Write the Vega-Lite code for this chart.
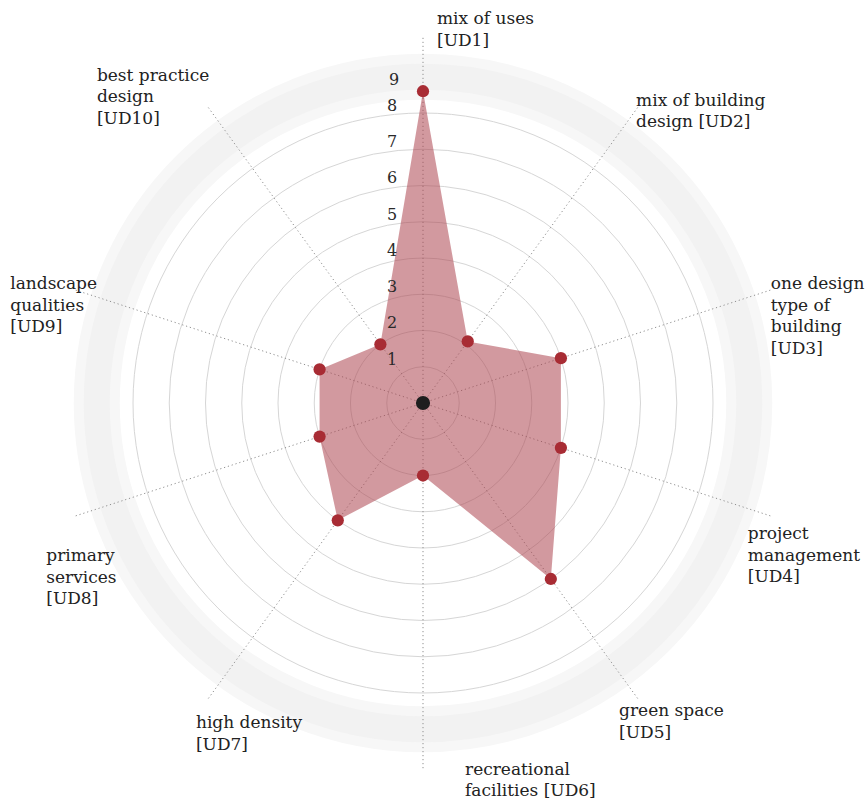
{
  "$schema": "https://vega.github.io/schema/vega-lite/v6.json",
  "width": 846,
  "height": 796,
  "autosize": {"type": "none"},
  "padding": {"left": 0, "top": 5, "right": 21, "bottom": 0},
  "background": "white",
  "config": {"view": {"stroke": null}},
  "datasets": {
    "axes": [
      {"key": "UD1", "idx": 0, "value": 8.6, "label": ["mix of uses", "[UD1]"]},
      {"key": "UD2", "idx": 1, "value": 2.1, "label": ["mix of building", "design [UD2]"]},
      {"key": "UD3", "idx": 2, "value": 4.0, "label": ["one design", "type of", "building", "[UD3]"]},
      {"key": "UD4", "idx": 3, "value": 4.0, "label": ["project", "management", "[UD4]"]},
      {"key": "UD5", "idx": 4, "value": 6.0, "label": ["green space", "[UD5]"]},
      {"key": "UD6", "idx": 5, "value": 2.0, "label": ["recreational", "facilities [UD6]"]},
      {"key": "UD7", "idx": 6, "value": 4.0, "label": ["high density", "[UD7]"]},
      {"key": "UD8", "idx": 7, "value": 3.0, "label": ["primary", "services", "[UD8]"]},
      {"key": "UD9", "idx": 8, "value": 3.0, "label": ["landscape", "qualities", "[UD9]"]},
      {"key": "UD10", "idx": 9, "value": 2.0, "label": ["best practice", "design", "[UD10]"]}
    ],
    "rings": [{"v": 1}, {"v": 2}, {"v": 3}, {"v": 4}, {"v": 5}, {"v": 6}, {"v": 7}, {"v": 8}, {"v": 9}]
  },
  "layer": [
    {
      "data": {"name": "rings"},
      "transform": [{"calculate": "0", "as": "o"}],
      "layer": [
        {
          "transform": [{"filter": "datum.v === 9"}],
          "mark": {"type": "point", "shape": "circle", "filled": false, "stroke": "#f7f7f7", "strokeWidth": 46, "opacity": 1},
          "encoding": {
            "x": {"field": "o", "type": "quantitative", "scale": {"domain": [-11.669, 11.669], "nice": false, "zero": false}, "axis": null},
            "y": {"field": "o", "type": "quantitative", "scale": {"domain": [-10.979, 10.979], "nice": false, "zero": false}, "axis": null},
            "size": {"field": "v", "type": "quantitative", "scale": {"type": "pow", "exponent": 2, "domain": [0, 10], "range": [0, 525625], "zero": true, "nice": false}, "legend": null}
          }
        },
        {
          "transform": [{"filter": "datum.v === 9"}],
          "mark": {"type": "point", "shape": "circle", "filled": false, "stroke": "#f2f2f2", "strokeWidth": 26, "opacity": 1},
          "encoding": {
            "x": {"field": "o", "type": "quantitative"},
            "y": {"field": "o", "type": "quantitative"},
            "size": {"field": "v", "type": "quantitative", "legend": null}
          }
        },
        {
          "transform": [{"filter": "datum.v <= 8"}],
          "mark": {"type": "point", "shape": "circle", "filled": false, "stroke": "#d6d6d6", "strokeWidth": 1, "opacity": 1},
          "encoding": {
            "x": {"field": "o", "type": "quantitative"},
            "y": {"field": "o", "type": "quantitative"},
            "size": {"field": "v", "type": "quantitative", "legend": null}
          }
        }
      ]
    },
    {
      "data": {"name": "axes"},
      "transform": [
        {"calculate": "0", "as": "o"},
        {"calculate": "datum.idx * PI / 5", "as": "angle"},
        {"calculate": "datum.value * sin(datum.angle)", "as": "px"},
        {"calculate": "datum.value * cos(datum.angle)", "as": "py"},
        {"calculate": "10.1 * sin(datum.angle)", "as": "ex"},
        {"calculate": "10.1 * cos(datum.angle)", "as": "ey"},
        {"calculate": "10 * sin(datum.angle)", "as": "lx"},
        {"calculate": "10 * cos(datum.angle)", "as": "ly"}
      ],
      "layer": [
        {
          "mark": {"type": "rule", "stroke": "#8f8f8f", "strokeWidth": 1, "strokeDash": [1.2, 2.8]},
          "encoding": {
            "x": {"field": "o", "type": "quantitative"},
            "y": {"field": "o", "type": "quantitative"},
            "x2": {"field": "ex"},
            "y2": {"field": "ey"}
          }
        },
        {
          "mark": {"type": "line", "filled": true, "fill": "#ad4650", "fillOpacity": 0.55, "strokeWidth": 0},
          "encoding": {
            "x": {"field": "px", "type": "quantitative"},
            "y": {"field": "py", "type": "quantitative"},
            "order": {"field": "idx", "type": "quantitative"}
          }
        },
        {
          "mark": {"type": "point", "filled": true, "shape": "circle", "size": 150, "color": "#a82c34", "opacity": 1},
          "encoding": {
            "x": {"field": "px", "type": "quantitative"},
            "y": {"field": "py", "type": "quantitative"}
          }
        },
        {
          "transform": [{"filter": "datum.idx === 0"}],
          "mark": {"type": "point", "filled": true, "shape": "circle", "size": 200, "color": "#1e1e1e", "opacity": 1},
          "encoding": {
            "x": {"field": "o", "type": "quantitative"},
            "y": {"field": "o", "type": "quantitative"}
          }
        },
        {"transform": [{"filter": "datum.key === 'UD1'"}], "mark": {"type": "text", "align": "left", "baseline": "top", "dx": 14, "dy": -29.5, "font": "DejaVu Serif", "fontSize": 17, "lineHeight": 21.7, "fill": "#222"}, "encoding": {"x": {"field": "lx", "type": "quantitative"}, "y": {"field": "ly", "type": "quantitative"}, "text": {"field": "label", "type": "nominal"}}},
        {"transform": [{"filter": "datum.key === 'UD2'"}], "mark": {"type": "text", "align": "left", "baseline": "top", "dx": 0, "dy": -17, "font": "DejaVu Serif", "fontSize": 17, "lineHeight": 21.7, "fill": "#222"}, "encoding": {"x": {"field": "lx", "type": "quantitative"}, "y": {"field": "ly", "type": "quantitative"}, "text": {"field": "label", "type": "nominal"}}},
        {"transform": [{"filter": "datum.key === 'UD3'"}], "mark": {"type": "text", "align": "left", "baseline": "top", "dx": 3, "dy": -15, "font": "DejaVu Serif", "fontSize": 17, "lineHeight": 21.7, "fill": "#222"}, "encoding": {"x": {"field": "lx", "type": "quantitative"}, "y": {"field": "ly", "type": "quantitative"}, "text": {"field": "label", "type": "nominal"}}},
        {"transform": [{"filter": "datum.key === 'UD4'"}], "mark": {"type": "text", "align": "left", "baseline": "top", "dx": -20, "dy": 11, "font": "DejaVu Serif", "fontSize": 17, "lineHeight": 21.7, "fill": "#222"}, "encoding": {"x": {"field": "lx", "type": "quantitative"}, "y": {"field": "ly", "type": "quantitative"}, "text": {"field": "label", "type": "nominal"}}},
        {"transform": [{"filter": "datum.key === 'UD5'"}], "mark": {"type": "text", "align": "left", "baseline": "top", "dx": -17, "dy": 7, "font": "DejaVu Serif", "fontSize": 17, "lineHeight": 21.7, "fill": "#222"}, "encoding": {"x": {"field": "lx", "type": "quantitative"}, "y": {"field": "ly", "type": "quantitative"}, "text": {"field": "label", "type": "nominal"}}},
        {"transform": [{"filter": "datum.key === 'UD6'"}], "mark": {"type": "text", "align": "left", "baseline": "top", "dx": 42, "dy": -4, "font": "DejaVu Serif", "fontSize": 17, "lineHeight": 21, "fill": "#222"}, "encoding": {"x": {"field": "lx", "type": "quantitative"}, "y": {"field": "ly", "type": "quantitative"}, "text": {"field": "label", "type": "nominal"}}},
        {"transform": [{"filter": "datum.key === 'UD7'"}], "mark": {"type": "text", "align": "left", "baseline": "top", "dx": -14, "dy": 19, "font": "DejaVu Serif", "fontSize": 17, "lineHeight": 21.7, "fill": "#222"}, "encoding": {"x": {"field": "lx", "type": "quantitative"}, "y": {"field": "ly", "type": "quantitative"}, "text": {"field": "label", "type": "nominal"}}},
        {"transform": [{"filter": "datum.key === 'UD8'"}], "mark": {"type": "text", "align": "left", "baseline": "top", "dx": -32, "dy": 33, "font": "DejaVu Serif", "fontSize": 17, "lineHeight": 21.7, "fill": "#222"}, "encoding": {"x": {"field": "lx", "type": "quantitative"}, "y": {"field": "ly", "type": "quantitative"}, "text": {"field": "label", "type": "nominal"}}},
        {"transform": [{"filter": "datum.key === 'UD9'"}], "mark": {"type": "text", "align": "left", "baseline": "top", "dx": -68, "dy": -15, "font": "DejaVu Serif", "fontSize": 17, "lineHeight": 21.7, "fill": "#222"}, "encoding": {"x": {"field": "lx", "type": "quantitative"}, "y": {"field": "ly", "type": "quantitative"}, "text": {"field": "label", "type": "nominal"}}},
        {"transform": [{"filter": "datum.key === 'UD10'"}], "mark": {"type": "text", "align": "left", "baseline": "top", "dx": -113, "dy": -42, "font": "DejaVu Serif", "fontSize": 17, "lineHeight": 21.7, "fill": "#222"}, "encoding": {"x": {"field": "lx", "type": "quantitative"}, "y": {"field": "ly", "type": "quantitative"}, "text": {"field": "label", "type": "nominal"}}}
      ]
    },
    {
      "data": {"name": "rings"},
      "transform": [{"calculate": "0", "as": "o"}],
      "layer": [
        {
          "transform": [{"filter": "datum.v <= 8"}],
          "mark": {"type": "text", "align": "center", "baseline": "middle", "dx": -31, "dy": -7, "font": "DejaVu Serif", "fontSize": 16, "fill": "#2a2a2a"},
          "encoding": {
            "x": {"field": "o", "type": "quantitative"},
            "y": {"field": "v", "type": "quantitative"},
            "text": {"field": "v", "type": "quantitative"}
          }
        },
        {
          "transform": [{"filter": "datum.v === 9"}],
          "mark": {"type": "text", "align": "center", "baseline": "middle", "dx": -29, "dy": 3, "font": "DejaVu Serif", "fontSize": 16, "fill": "#2a2a2a"},
          "encoding": {
            "x": {"field": "o", "type": "quantitative"},
            "y": {"field": "v", "type": "quantitative"},
            "text": {"field": "v", "type": "quantitative"}
          }
        }
      ]
    }
  ]
}
